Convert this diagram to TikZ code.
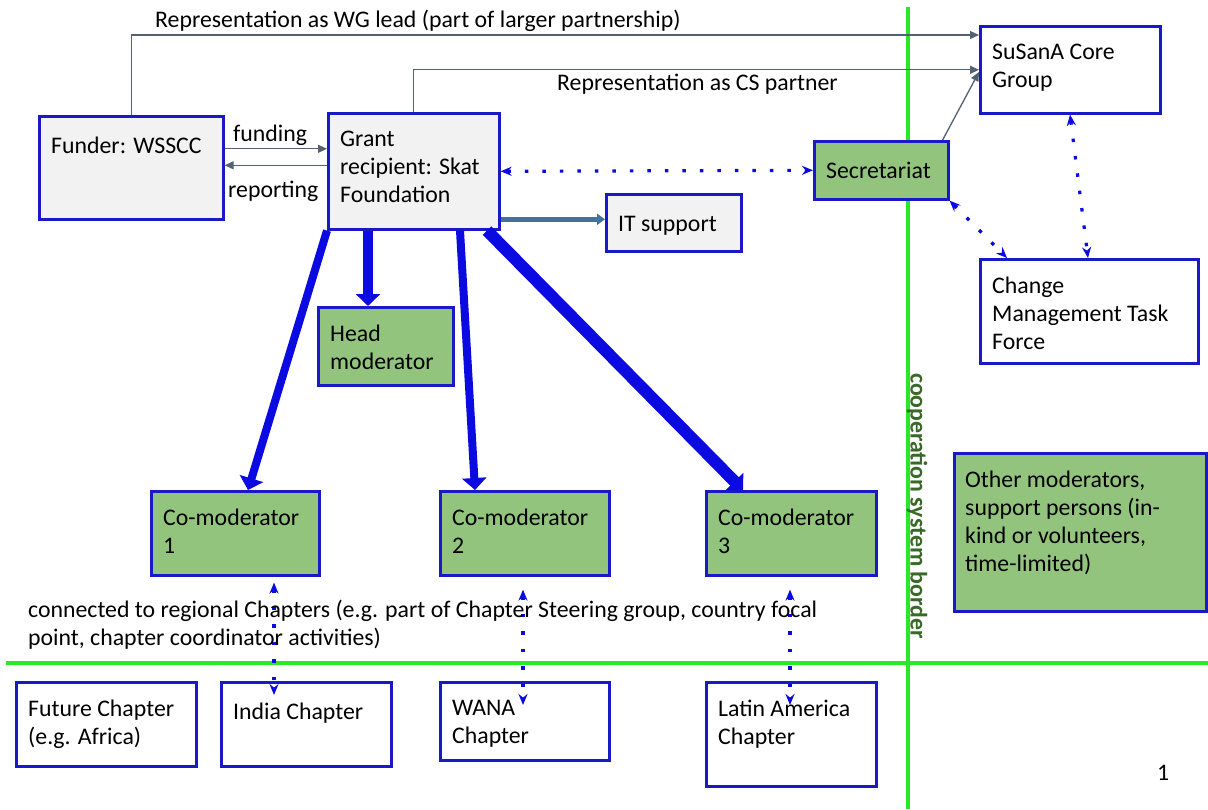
\documentclass[tikz,border=0pt]{standalone}
\usepackage{fontspec}
\setmainfont{Carlito}
\usetikzlibrary{arrows.meta,positioning,shadows}
\definecolor{boxblue}{RGB}{25,25,200}
\definecolor{boxgreen}{RGB}{147,196,125}
\definecolor{boxgrey}{RGB}{242,242,242}
\definecolor{bordergreen}{RGB}{40,232,40}
\definecolor{bordertext}{RGB}{56,105,40}
\definecolor{repgrey}{RGB}{82,98,115}
\definecolor{itblue}{RGB}{65,113,156}
\definecolor{feedblue}{RGB}{10,10,225}
\tikzset{
  every node/.style={font=\fontsize{23.8}{28}\selectfont, inner sep=0pt},
  box/.style={draw=boxblue, line width=2.6pt, anchor=north west,
    drop shadow={shadow xshift=2pt, shadow yshift=-2pt, opacity=.25}},
  greybox/.style={box, fill=boxgrey},
  greenbox/.style={box, fill=boxgreen},
  whitebox/.style={box, fill=white},
  txt/.style={anchor=north west, align=left, execute at begin node=\strut},
  intxt/.style={txt, xshift=13pt, yshift=-19pt},
  rep/.style={draw=repgrey, line width=1.3pt, -{Triangle[length=9pt,width=8pt]}},
  itline/.style={draw=itblue, line width=4.5pt, -{Triangle[length=8pt,width=11pt]}},
  feed/.style={draw=feedblue, -{Triangle[length=12pt,width=24pt]}},
  link/.style={draw=feedblue, line width=3.2pt, dash pattern=on 3.5pt off 14pt,
    {Stealth[length=11pt,width=9pt]}-{Stealth[length=11pt,width=9pt]}},
  border/.style={draw=bordergreen, line width=4pt}
}
\begin{document}
\begin{tikzpicture}[x=1pt,y=-1pt]
\useasboundingbox[fill=white] (0,0) rectangle (1208,809);

% system border
\draw[border] (908,7) -- (908,809);
\draw[border] (6,663) -- (1208,663);
\node[rotate=-90, font=\fontsize{23.8}{28}\selectfont\bfseries, text=bordertext] (coop) at (917,506) {cooperation system border};

% boxes
\node[greybox, minimum width=184pt, minimum height=103pt, label={[intxt]north west:Funder: WSSCC}] (funder) at (38,115) {};
\node[greybox, minimum width=171pt, minimum height=116pt, label={[intxt]north west:{Grant\\recipient: Skat\\Foundation}}] (grant) at (327,112) {};
\node[greybox, minimum width=135pt, minimum height=57pt, label={[intxt]north west:IT support}] (it) at (605,193) {};
\node[greenbox, minimum width=134pt, minimum height=58pt, label={[intxt]north west:Secretariat}] (sec) at (813,140) {};
\node[whitebox, minimum width=180pt, minimum height=87pt, label={[intxt]north west:{SuSanA Core\\Group}}] (susana) at (979,25) {};
\node[whitebox, minimum width=218pt, minimum height=104pt, label={[intxt]north west:{Change\\Management Task\\Force}}] (change) at (979,258) {};
\node[greenbox, minimum width=135pt, minimum height=78pt, label={[intxt]north west:{Head\\moderator}}] (head) at (317,306) {};
\node[greenbox, minimum width=168pt, minimum height=84pt, label={[intxt]north west:{Co-moderator\\1}}] (cm1) at (150,490) {};
\node[greenbox, minimum width=169pt, minimum height=84pt, label={[intxt]north west:{Co-moderator\\2}}] (cm2) at (439,490) {};
\node[greenbox, minimum width=170pt, minimum height=84pt, label={[intxt]north west:{Co-moderator\\3}}] (cm3) at (705,490) {};
\node[greenbox, minimum width=252pt, minimum height=158pt, label={[intxt, xshift=-1pt]north west:{Other moderators,\\support persons (in-\\kind or volunteers,\\time-limited)}}] (other) at (953,452) {};
\node[whitebox, minimum width=180pt, minimum height=84pt, label={[intxt]north west:{Future Chapter\\(e.g. Africa)}}] (future) at (15,681) {};
\node[whitebox, minimum width=170pt, minimum height=84pt, label={[intxt]north west:India Chapter}] (india) at (220,681) {};
\node[whitebox, minimum width=169pt, minimum height=78pt, label={[intxt]north west:{WANA\\Chapter}}] (wana) at (439,681) {};
\node[whitebox, minimum width=170pt, minimum height=104pt, label={[intxt]north west:{Latin America\\Chapter}}] (latin) at (705,681) {};

% representation
\draw[rep] (funder.north) |- ([yshift=-10pt]susana.north west);
\draw[rep] (grant.north) |- (susana.west);
\draw[rep] ([xshift=-7pt]sec.north east) -- ([yshift=-47pt]susana.north west);
\node[anchor=base west] (wglabel) at (155,27) {Representation as WG lead (part of larger partnership)};
\node[anchor=base west] (cslabel) at (557,90) {Representation as CS partner};

% funding and reporting
\draw[rep] ([yshift=19pt]funder.east) -- ([yshift=19pt]funder.east -| grant.west);
\draw[rep] ([yshift=6pt]grant.west) -- ([yshift=6pt]grant.west -| funder.east);
\node[anchor=base west] (fundlabel) at (233,141) {funding};
\node[anchor=base west] (replabel) at (228,197) {reporting};
\draw[itline] ([yshift=-48pt]grant.east) -- ([yshift=-48pt]grant.east -| it.west);

% dotted links
\draw[link] (grant.east) -- (sec.west);
\draw[link] (sec.south east) -- ([xshift=28pt]change.north west);
\draw[link] ([xshift=91pt]susana.south west) -- ([xshift=109pt]change.north west);

% moderators
\draw[feed, line width=8pt] (grant.south west) -- ([xshift=98pt]cm1.north west);
\draw[feed, line width=10pt] ([xshift=41pt]grant.south west) -- ([xshift=51pt]head.north west);
\draw[feed, line width=8pt] ([xshift=133pt]grant.south west) -- ([xshift=36pt]cm2.north west);
\draw[feed, line width=12pt] ([xshift=160pt]grant.south west) -- ([xshift=38pt]cm3.north west);

% chapters
\draw[link] ([xshift=124pt,yshift=-6pt]cm1.south west) -- ([xshift=54pt,yshift=-14pt]india.north west);
\draw[link] ([xshift=84pt,yshift=-13pt]cm2.south west) -- ([xshift=84pt,yshift=-24pt]wana.north west);
\draw[link] ([xshift=85pt,yshift=-13pt]cm3.south west) -- ([xshift=85pt,yshift=-24pt]latin.north west);
\node[txt] (chapnote) at (28,600) {connected to regional Chapters (e.g. part of Chapter Steering group, country focal\\point, chapter coordinator activities)};

\node[anchor=base west] (pagenum) at (1157,780) {1};
\end{tikzpicture}
\end{document}
